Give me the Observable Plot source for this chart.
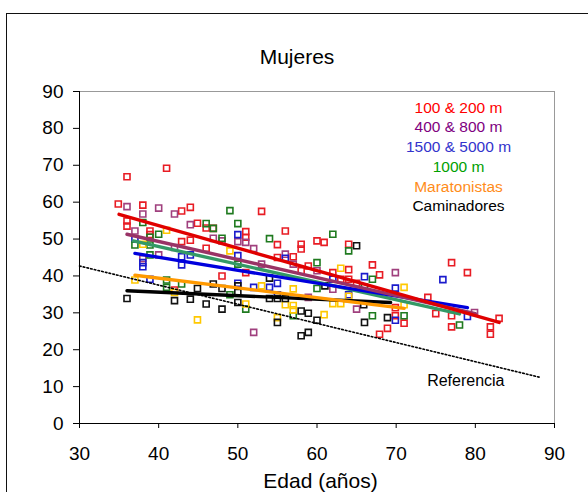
<!DOCTYPE html>
<html>
<head>
<meta charset="utf-8">
<script src="https://cdn.jsdelivr.net/npm/d3@7"></script>
<script src="https://cdn.jsdelivr.net/npm/@observablehq/plot@0.6"></script>
<style>
  html, body { margin: 0; padding: 0; background: #fff; overflow: hidden; }
  #wrap { position: relative; width: 588px; height: 492px; overflow: hidden; }
  #border { position: absolute; left: 6px; top: 13px; width: 620px; height: 520px; border: 1.5px solid #111; box-sizing: border-box; }
  #chart { position: absolute; left: 0; top: 0; }
</style>
</head>
<body>
<div id="wrap"><div id="border"></div><div id="chart"></div></div>
<script>
const xTicks = [30, 40, 50, 60, 70, 80, 90];
const yTicks = [0, 10, 20, 30, 40, 50, 60, 70, 80, 90];

const groups = ["100 & 200 m", "400 & 800 m", "1500 & 5000 m", "1000 m", "Maratonistas", "Caminadores"];
const textColors = ["#ff0000", "#800080", "#3333cc", "#00a000", "#ff8c1a", "#000000"];
const markerColors = ["#e81c24", "#a0407e", "#1a1acc", "#1f7a1f", "#ffc800", "#111111"];
const lineColors = ["#e00000", "#993366", "#0000dd", "#339966", "#ff9900", "#000000"];

const pts100 = [[36,66.9],[41,69.2],[34.9,59.5],[38,59.2],[42.9,57.6],[44,58.6],[36,54.9],[36,53.5],[38.9,52.2],[38.9,51.2],[44.9,54.3],[46,53],[46.9,52.9],[51,52],[51,50.5],[42.9,49.3],[44,49.7],[46,47.5],[53,57.5],[56,52.2],[55,48.5],[48,40],[51,40.9],[55,45],[57,45.2],[42,36.2],[58,48.6],[58,47.3],[60,49.5],[60.9,49.1],[58.9,42.7],[58,41.4],[62,40.9],[64,41.7],[64,39.1],[63,39.1],[67,43],[67.9,40.3],[74,34.2],[75,29.8],[77,43.6],[79,40.9],[77,29.2],[77,26.2],[81.9,26.2],[81.9,24.2],[83,28.5],[69.9,31.4],[69.9,29.2],[71,27.2],[68.9,25.8],[67.9,24.2],[65,38],[64,48.6]];
const pts400 = [[36,58.8],[38,56.8],[40,58.4],[42,56.8],[44,53.9],[37,52.2],[38,44.7],[40,45.7],[42,47.7],[46.9,50.2],[48,49.5],[50,49.3],[51,49.1],[52,47.4],[53,43.2],[56,45.9],[57,43.2],[52,24.7],[60,41.4],[69.9,40.9],[79.9,30.1],[65,31],[58.9,34.2],[62,36.4]];
const pts1500 = [[50,51.2],[50,45.5],[42.9,45.2],[42.9,43],[44,45.7],[38,42.5],[38,43.6],[37,50],[38.9,39.1],[50,38],[52,36.9],[54,36.9],[55,38],[56,44.8],[55,34.9],[66,39.8],[69.9,36.7],[75.9,39],[79,29],[69.9,28],[62,39.1],[64,34.9]];
const pts1000 = [[49,57.7],[50,54.2],[46,54.2],[46.9,52.9],[40,51.3],[38,54.5],[37,48.4],[38.9,48.4],[38.9,50.5],[38.9,45.7],[48,50.2],[54,50.1],[41,38.9],[41,36.9],[42.9,37.8],[49,34.9],[50,43.2],[51,31],[57,29.2],[62,51.3],[64,46.8],[60,43.6],[67,39.1],[67,29.2],[71,29.2],[78,26.7],[66,37],[60,36.6]];
const ptsMaraton = [[41,52.4],[38,48.6],[37,38.9],[42,35.5],[49,46.8],[44.9,28.1],[51,32.4],[53,37.3],[55,28.7],[56,32.2],[57,32],[57,30.8],[57,36.5],[63,42.1],[71,36.9],[60.9,29.5],[62,32.5],[63,32.5],[64,34.5],[71,32.2]];
const ptsCamin = [[36,33.9],[42,33.3],[44,33.7],[44.9,36.6],[46,32.4],[46.9,37.8],[48,36.6],[48,31],[50,37.3],[50,35.5],[50,32.8],[54,39.4],[54,33.9],[55,33.9],[55,27.4],[56,33.9],[58,30.5],[58,23.8],[58.9,29.9],[60,28],[58.9,24.7],[65,48.2],[65.9,32.2],[66,27.4],[68.9,28.7],[61,37.3]];

// regression line end points
const fit100 = [[35,56.7],[83,27.4]];
const fit400 = [[36,51.3],[80,29.8]];
const fit1500 = [[37,46.1],[79,31.4]];
const fit1000 = [[36.8,49.5],[78,29.7]];
const fitMaraton = [[37,40.2],[71,31.2]];
const fitCamin = [[36,36],[69.3,32.8]];
const referencia = [[30,42.7],[88.2,12.5]];
const refLabel = [{x: 78.8, y: 11.6, t: "Referencia"}];

const allPts = [pts100, pts400, pts1500, pts1000, ptsMaraton, ptsCamin];
const allFits = [fit100, fit400, fit1500, fit1000, fitMaraton, fitCamin];

const font = "'Liberation Sans', Arial, Helvetica, sans-serif";

const dotMarks = allPts.map((p, i) => Plot.dot(p, {
  x: d => d[0], y: d => d[1], symbol: "square", r: 3.4,
  stroke: markerColors[i], strokeWidth: 1.6, fill: "none"
}));

const lineOrder = [5, 4, 3, 2, 1, 0];
const lineMarks = lineOrder.map(i => Plot.line(allFits[i], {
  x: d => d[0], y: d => d[1], stroke: lineColors[i], strokeWidth: 3.4
}));

const legendMarks = groups.map((g, i) => Plot.text([g], {
  text: d => d, frameAnchor: "top", dx: 141.5, dy: 16.3 + i * 19.7,
  fill: textColors[i], fontSize: 15.5, lineAnchor: "middle"
}));

const chart = Plot.plot({
  width: 588, height: 492,
  marginLeft: 79, marginRight: 34, marginTop: 91, marginBottom: 69,
  style: { fontFamily: font, background: "transparent", color: "#000", overflow: "visible" },
  x: { domain: [30, 90], label: null },
  y: { domain: [0, 90], label: null },
  marks: [
    Plot.ruleY([90], { stroke: "#999", strokeWidth: 1 }),
    Plot.ruleX([90], { stroke: "#999", strokeWidth: 1 }),
    ...dotMarks,
    Plot.line(referencia, { x: d => d[0], y: d => d[1], stroke: "#000", strokeWidth: 1.6, strokeDasharray: "1.6,2.2" }),
    ...lineMarks,
    Plot.ruleY([0], { stroke: "#000", strokeWidth: 1 }),
    Plot.ruleX([30], { stroke: "#000", strokeWidth: 1 }),
    Plot.axisX({ ticks: xTicks, tickSize: 5, tickPadding: 18, fontSize: 19, label: null, tickFormat: d3.format("d") }),
    Plot.axisY({ ticks: yTicks, tickSize: 6, tickPadding: 10, fontSize: 19, label: null, tickFormat: d3.format("d") }),
    Plot.text(refLabel, { x: "x", y: "y", text: "t", fontSize: 16, fill: "#000", lineAnchor: "middle" }),
    ...legendMarks,
    Plot.text(["Mujeres"], { text: d => d, frameAnchor: "top", dx: -20, dy: -34, fontSize: 21, lineAnchor: "middle" }),
    Plot.text(["Edad (años)"], { text: d => d, frameAnchor: "bottom", dx: 3.5, dy: 58, fontSize: 21, lineAnchor: "middle" })
  ]
});
document.getElementById("chart").appendChild(chart);
</script>
</body>
</html>
